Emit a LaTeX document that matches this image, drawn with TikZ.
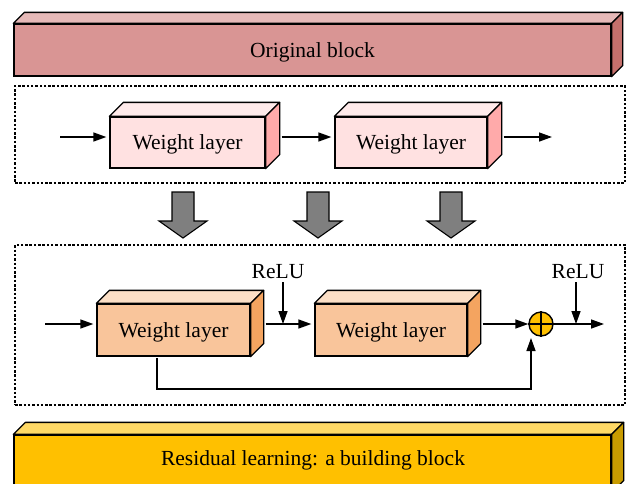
\documentclass[tikz,border=0pt]{standalone}
\usepackage{fontspec}
\setmainfont{Liberation Serif}
\usetikzlibrary{arrows.meta}
\definecolor{origfront}{HTML}{D99594}
\definecolor{origtop}{HTML}{E6B9B8}
\definecolor{origside}{HTML}{C5706C}
\definecolor{pinkfront}{HTML}{FFE1E1}
\definecolor{pinktop}{HTML}{FFEAEA}
\definecolor{pinkside}{HTML}{FFAAAA}
\definecolor{orfront}{HTML}{F9C59B}
\definecolor{ortop}{HTML}{FCDFC6}
\definecolor{orside}{HTML}{F4A460}
\definecolor{resfront}{HTML}{FFC000}
\definecolor{restop}{HTML}{FFD966}
\definecolor{resside}{HTML}{C89B00}
\definecolor{downgray}{HTML}{7F7F7F}
% front face of a box, placed by its corners
\newcommand{\boxface}[7]{%
  \node[face, fill=#6, minimum width={#4-#2}, minimum height={#5-#3}]
    (#1) at ({(#2+#4)/2},{(#3+#5)/2}) {#7};}
% top and right faces behind a front face
\newcommand{\boxdepth}[4]{%
  \draw[edge, fill=#3] (#1.north west) -- ++(#2,-#2) -- ([shift={(#2,-#2)}]#1.north east) -- (#1.north east) -- cycle;
  \draw[edge, fill=#4] (#1.north east) -- ++(#2,-#2) -- ([shift={(#2,-#2)}]#1.south east) -- (#1.south east) -- cycle;}
\tikzset{
  face/.style={draw, line width=1.3pt, inner sep=0pt, text depth=0pt, font=\fontsize{21.5}{23}\selectfont},
  edge/.style={line width=1.3pt, line join=round},
  flow/.style={line width=1.4pt, -{Triangle[length=13pt,width=9pt]}},
  frame/.style={draw, line width=1.2pt, dash pattern=on 2.5pt off 1.8pt},
  tag/.style={font=\fontsize{21.5}{23}\selectfont, inner sep=0pt},
  bigarrow/.style={draw, line width=1.1pt, fill=downgray, line join=miter}
}
\begin{document}
\begin{tikzpicture}[x=1pt,y=-1pt]
\useasboundingbox (0,0) rectangle (629,483);
\clip (0,0) rectangle (629,483);

% original block banner
\boxface{orig}{14}{24}{611}{76}{origfront}{Original block}
\boxdepth{orig}{11}{origtop}{origside}

% plain two-layer block
\node[frame, minimum width=610, minimum height=97, inner sep=0pt] (plainframe) at (320,134.5) {};
\coordinate (pin) at (60,137);
\coordinate (pout) at (552,137);
\boxface{pw1}{110}{117}{265}{168}{pinkfront}{Weight layer}
\boxdepth{pw1}{14}{pinktop}{pinkside}
\boxface{pw2}{335}{117}{487}{168}{pinkfront}{Weight layer}
\boxdepth{pw2}{14}{pinktop}{pinkside}
\draw[flow] (pin) -- ([xshift=-3pt]pw1.west |- pin);
\draw[flow] ([xshift=16pt]pw1.east |- pin) -- ([xshift=-3pt]pw2.west |- pin);
\draw[flow] ([xshift=16pt]pw2.east |- pin) -- (pout);

% transformation arrows
\foreach \cx/\nm in {183/da, 318/db, 451/dc}{
  \draw[bigarrow] (\cx-11,192) -- (\cx+11,192) -- (\cx+11,221) -- (\cx+24,221)
    -- (\cx,238) -- (\cx-24,221) -- (\cx-11,221) -- cycle;
}

% residual block
\node[frame, minimum width=610, minimum height=160, inner sep=0pt] (resframe) at (320,325) {};
\coordinate (rin) at (45,324);
\boxface{rw1}{97}{304}{250}{356}{orfront}{Weight layer}
\boxdepth{rw1}{13}{ortop}{orside}
\boxface{rw2}{315}{304}{467}{356}{orfront}{Weight layer}
\boxdepth{rw2}{13}{ortop}{orside}
\node[circle, draw, line width=1.4pt, fill=resfront, minimum size=24pt, inner sep=0pt] (sum) at (541,324) {};
\draw[line width=1.3pt] (sum.north) -- (sum.south) (sum.west) -- (sum.east);
\coordinate (rout) at (604,324);

\node[tag] (relua) at (278,272) {ReLU};
\node[tag] (relub) at (578,272) {ReLU};
\coordinate (rja) at (283,324);
\coordinate (rjb) at (576,324);

\draw[flow] (rin) -- ([xshift=-3pt]rw1.west |- rin);
\draw[flow] ([xshift=15pt]rw1.east |- rin) -- ([xshift=-3pt]rw2.west |- rin);
\draw[flow] ([xshift=15pt]rw2.east |- rin) -- (sum.west);
\draw[flow] (sum.east) -- (rout);
\draw[flow] (relua.south -| rja) ++(0,3) -- (rja);
\draw[flow] (relub.south -| rjb) ++(0,3) -- (rjb);
\coordinate (skipa) at (157,358);
\coordinate (skipb) at (157,389);
\coordinate (skipend) at (531,338);
\draw[flow] (skipa) -- (skipb) -| (skipend);

% residual learning banner
\boxface{res}{14}{435}{611}{492}{resfront}{}
\boxdepth{res}{12}{restop}{resside}
\node[tag] (restext) at (313,460) {Residual learning: a building block};
\end{tikzpicture}
\end{document}
